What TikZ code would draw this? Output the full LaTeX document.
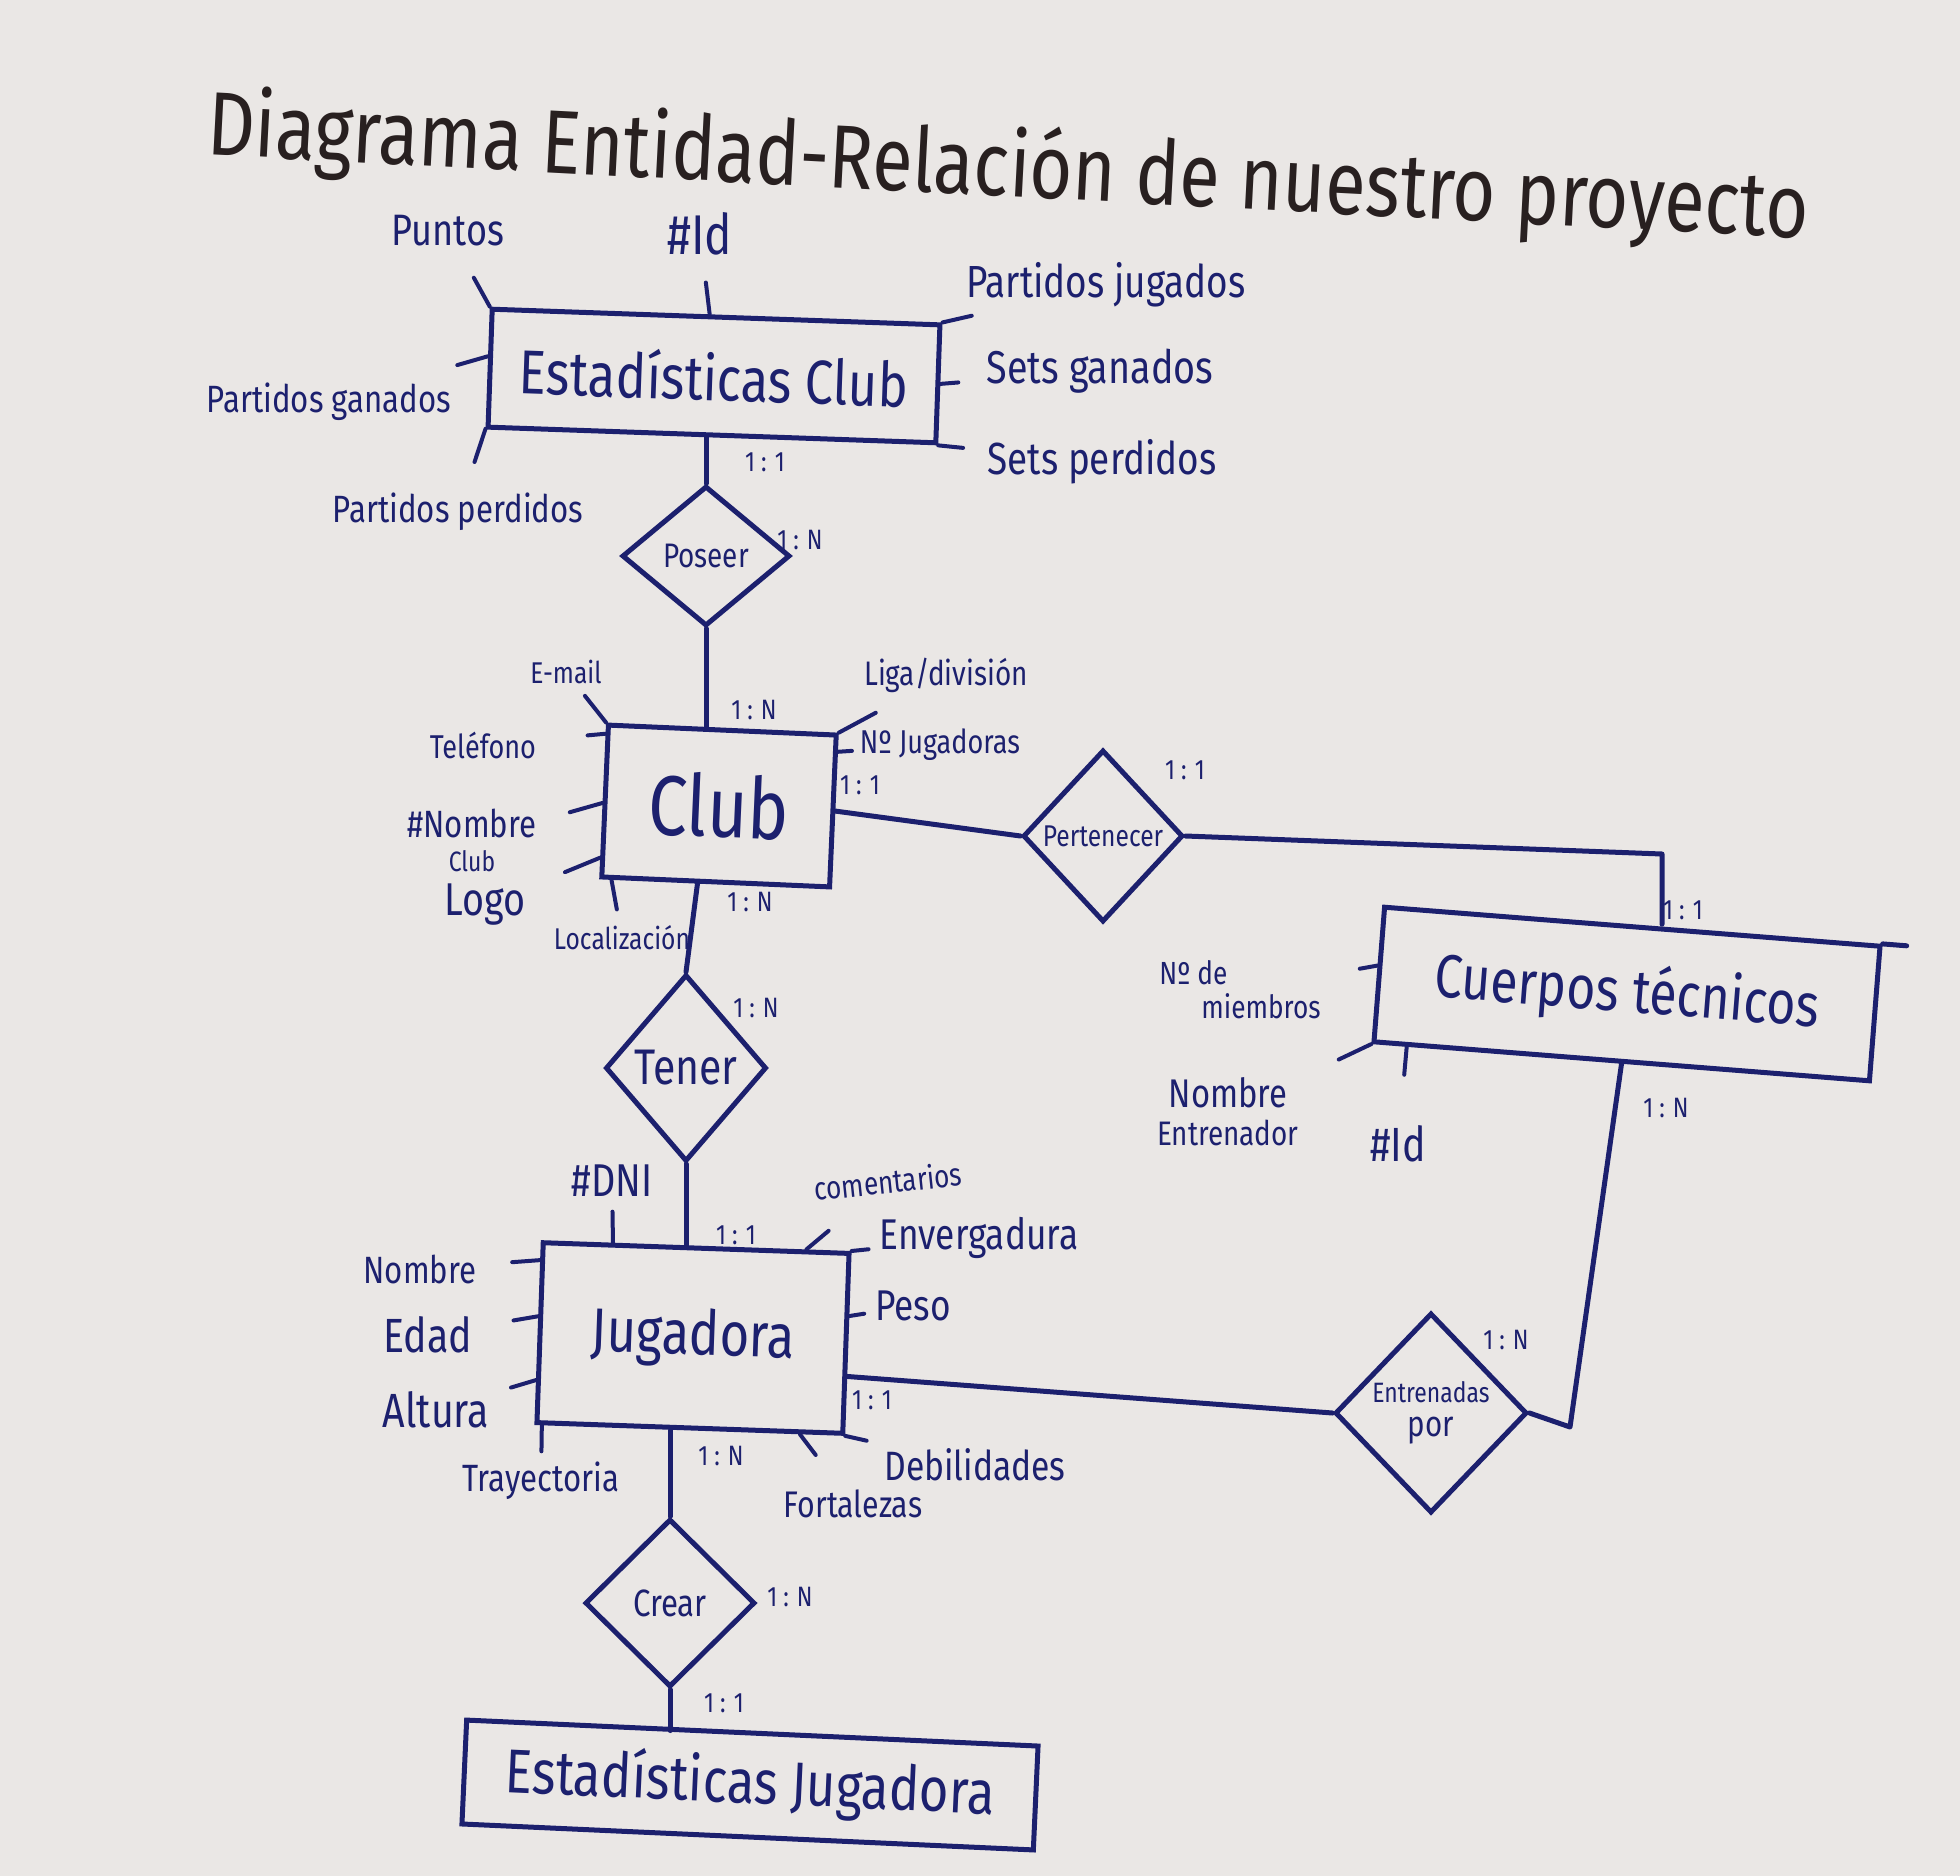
\documentclass[tikz,border=0pt]{standalone}
\usepackage{fontspec}
\setmainfont{Fira Sans}[FakeStretch=0.82]
\usetikzlibrary{shapes.geometric,calc}
\definecolor{board}{RGB}{234,231,229}
\definecolor{ink}{RGB}{28,32,110}
\definecolor{titleink}{RGB}{40,32,32}
\begin{document}
\begin{tikzpicture}[x=1pt,y=-1pt,
  fs/.style={font=\fontsize{#1}{#1}\selectfont},
  ent/.style={draw=ink, line width=5pt, rectangle, inner sep=0pt, text=ink},
  rel/.style={draw=ink, line width=5pt, diamond, inner sep=0pt, text=ink, align=center},
  attr/.style={text=ink, inner sep=1pt, align=center},
  card/.style={text=ink, inner sep=1pt, fs=28},
  conn/.style={draw=ink, line width=5pt, line join=round, line cap=round},
  tick/.style={draw=ink, line width=4pt, line cap=round}
]
\fill[board] (0,0) rectangle (1960,1876);
\useasboundingbox (0,0) rectangle (1960,1876);

% title
\node[text=titleink, fs=90, rotate=-3, inner sep=0pt] (title) at (1008,170) {Diagrama Entidad-Relación de nuestro proyecto};

% entities
\node[ent, minimum width=448pt, minimum height=118pt, rotate=-2, fs=62] (ec) at (714,376) {Estadísticas Club};
\node[ent, minimum width=228pt, minimum height=152pt, rotate=-2.5, fs=85] (club) at (719,806) {Club};
\node[ent, minimum width=497pt, minimum height=135pt, rotate=-4.5, fs=61] (ct) at (1627,994) {Cuerpos técnicos};
\node[ent, minimum width=306pt, minimum height=180pt, rotate=-2, fs=62] (jug) at (693,1338) {Jugadora};
\node[ent, minimum width=572pt, minimum height=104pt, rotate=-2.6, fs=62] (ej) at (750,1785) {Estadísticas Jugadora};

% relationships
\node[rel, minimum width=168pt, minimum height=140pt, fs=34] (poseer) at (706,556) {Poseer};
\node[rel, minimum width=160pt, minimum height=172pt, fs=30] (pert) at (1103,836) {Pertenecer};
\node[rel, minimum width=161pt, minimum height=187pt, fs=50] (tener) at (686,1068) {Tener};
\node[rel, minimum width=170pt, minimum height=168pt, fs=38] (crear) at (670,1603) {Crear};
\node[rel, minimum width=192pt, minimum height=200pt, fs=28] (entr) at (1431,1413) {Entrenadas\\[6pt]{\fontsize{36}{36}\selectfont por}};

% connectors
\draw[conn] (poseer.north) -- (poseer.north |- ec.south);
\draw[conn] (poseer.south) -- (poseer.south |- club.north);
\draw[conn] (club.257) -- (tener.north);
\draw[conn] (tener.south) -- (tener.south |- jug.north);
\draw[conn] (crear.north) -- (crear.north |- jug.south);
\draw[conn] (crear.south) -- (crear.south |- ej.north);
\draw[conn] (club.east) -- (pert.west);
\coordinate (pcorner) at (1662,854);
\draw[conn] (pert.east) -- (pcorner) -- (pcorner |- ct.north);
\draw[conn] (ct.north east) -- ($(ct.north east)!-24pt!(ct.north west)$);
\coordinate (ecorner) at (1570,1427);
\draw[conn] (ct.south) -- (ecorner) -- (entr.east);
\draw[conn] (jug.-12) -- (entr.west);

% attributes of Estadisticas Club
\node[attr, fs=44] (puntos) at (448,231) {Puntos};
\node[attr, fs=56] (ecid) at (700,234) {\#Id};
\node[attr, fs=45] (pjug) at (1106,285) {Partidos jugados};
\node[attr, fs=46] (sgan) at (1100,371) {Sets ganados};
\node[attr, fs=45] (sper) at (1102,462) {Sets perdidos};
\node[attr, fs=38] (pgan) at (329,402) {Partidos ganados};
\node[attr, fs=38] (pper) at (458,512) {Partidos perdidos};
\draw[tick] ($(ec.north west)!33pt!(puntos)$) -- (ec.north west);
\draw[tick] ($(ec.96)!32pt!(ecid)$) -- (ec.96);
\draw[tick] ($(ec.north east)!30pt!(pjug)$) -- (ec.north east);
\draw[tick] ($(ec.east)!18pt!(sgan)$) -- (ec.east);
\draw[tick] ($(ec.south east)!25pt!(sper)$) -- (ec.south east);
\draw[tick] ($(ec.177)!32pt!(pgan)$) -- (ec.177);
\draw[tick] ($(ec.195.5)!35pt!(pper)$) -- (ec.195.5);

% attributes of Club
\node[attr, fs=30] (email) at (566,672) {E-mail};
\node[attr, fs=33] (tel) at (483,745) {Teléfono};
\node[attr, fs=38] (nomclub) at (472,840) {\#Nombre\\[-4pt]{\fontsize{28}{28}\selectfont Club}};
\node[attr, fs=46] (logo) at (485,905) {Logo};
\node[attr, fs=30] (loc) at (622,938) {Localización};
\node[attr, fs=34] (liga) at (946,675) {Liga/división};
\node[attr, fs=33] (njug) at (940,745) {Nº Jugadoras};
\draw[tick] ($(club.north west)!34pt!(email)$) -- (club.north west);
\draw[tick] ($(club.150)!18pt!(tel)$) -- (club.150);
\draw[tick] ($(club.181)!34pt!(nomclub)$) -- (club.181);
\draw[tick] ($(club.206)!38pt!(logo)$) -- (club.206);
\draw[tick] ($(club.217)!30pt!(loc)$) -- (club.217);
\draw[tick] ($(club.north east)!42pt!(liga)$) -- (club.north east);
\draw[tick] ($(club.27)!14pt!(njug)$) -- (club.27);

% attributes of Cuerpos tecnicos
\node[attr, fs=32, align=left] (nmiem) at (1240,990) {Nº de\\[2pt]\hspace*{42pt}miembros};
\node[attr, fs=34] (nent) at (1228,1112) {{\fontsize{40}{40}\selectfont Nombre}\\[4pt]Entrenador};
\node[attr, fs=48] (ctid) at (1398,1144) {\#Id};
\draw[tick] ($(ct.178)!18pt!(nmiem)$) -- (ct.178);
\draw[tick] ($(ct.south west)!36pt!(nent)$) -- (ct.south west);
\draw[tick] ($(ct.198.5)!28pt!(ctid)$) -- (ct.198.5);

% attributes of Jugadora
\node[attr, fs=46] (dni) at (612,1181) {\#DNI};
\node[attr, fs=32, rotate=6] (coment) at (888,1181) {comentarios};
\node[attr, fs=43] (enver) at (979,1238) {Envergadura};
\node[attr, fs=43] (peso) at (913,1306) {Peso};
\node[attr, fs=38] (jnom) at (420,1269) {Nombre};
\node[attr, fs=48] (edad) at (428,1335) {Edad};
\node[attr, fs=48] (altura) at (436,1410) {Altura};
\node[attr, fs=38] (tray) at (541,1481) {Trayectoria};
\node[attr, fs=37] (fort) at (853,1504) {Fortalezas};
\node[attr, fs=41] (debil) at (975,1465) {Debilidades};
\draw[tick] ($(jug.132)!31pt!(dni)$) -- (jug.132);
\draw[tick] ($(jug.40)!29pt!(coment)$) -- (jug.40);
\draw[tick] ($(jug.north east)!17pt!(enver)$) -- (jug.north east);
\draw[tick] ($(jug.10)!15pt!(peso)$) -- (jug.10);
\draw[tick] ($(jug.155)!28pt!(jnom)$) -- (jug.155);
\draw[tick] ($(jug.174)!25pt!(edad)$) -- (jug.174);
\draw[tick] ($(jug.197)!26pt!(altura)$) -- (jug.197);
\draw[tick] ($(jug.212)!26pt!(tray)$) -- (jug.212);
\draw[tick] ($(jug.-40)!26pt!(fort)$) -- (jug.-40);
\draw[tick] ($(jug.south east)!22pt!(debil)$) -- (jug.south east);

% cardinalities
\node[card] (k1) at (765,462) {1 : 1};
\node[card] (k2) at (800,540) {1 : N};
\node[card] (k3) at (754,710) {1 : N};
\node[card] (k4) at (860,785) {1 : 1};
\node[card] (k5) at (1185,770) {1 : 1};
\node[card] (k6) at (1683,910) {1 : 1};
\node[card] (k7) at (750,902) {1 : N};
\node[card] (k8) at (756,1008) {1 : N};
\node[card] (k9) at (736,1235) {1 : 1};
\node[card] (k10) at (872,1400) {1 : 1};
\node[card] (k11) at (1666,1108) {1 : N};
\node[card] (k12) at (1506,1340) {1 : N};
\node[card] (k13) at (721,1456) {1 : N};
\node[card] (k14) at (790,1597) {1 : N};
\node[card] (k15) at (724,1703) {1 : 1};
\end{tikzpicture}
\end{document}
